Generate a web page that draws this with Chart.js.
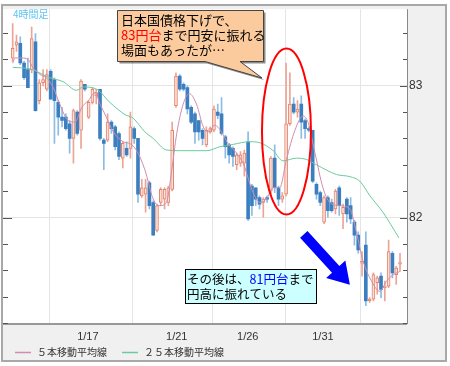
<!DOCTYPE html>
<html>
<head>
<meta charset="utf-8">
<script src="https://cdn.jsdelivr.net/npm/chart.js@4.4.1/dist/chart.umd.min.js"></script>
<style>
  html, body { margin: 0; padding: 0; background: #fff; }
</style>
</head>
<body>
<canvas id="chart1" width="450" height="366"></canvas>
<script>
// USD/JPY 4h candles, index 0 = first candle on the left
const candleOpen = [83.209, 83.308, 83.321, 83.172, 83.122, 83.122, 83.333, 82.886, 83.022, 82.973,
  83.109, 83.047, 82.873, 82.761, 82.761, 82.711, 82.600, 82.799, 82.662, 83.010,
  82.761, 82.873, 82.923, 82.973, 82.587, 82.587, 82.724, 82.687, 82.637, 82.450,
  82.525, 82.525, 82.674, 82.600, 82.164, 82.177, 82.264, 82.114, 81.903, 82.114,
  82.139, 82.114, 82.214, 82.848, 83.072, 83.010, 82.985, 82.836, 82.786, 82.736,
  82.662, 82.550, 82.649, 82.662, 82.799, 82.786, 82.612, 82.550, 82.525, 82.400,
  82.413, 82.413, 82.575, 82.239, 82.226, 82.152, 82.114, 82.152, 82.201, 82.450,
  82.226, 82.139, 82.177, 82.711, 82.861, 82.799, 82.861, 82.736, 82.674, 82.662,
  82.251, 82.189, 81.965, 82.152, 82.114, 82.065, 82.226, 82.027, 82.139, 82.090,
  81.965, 81.866, 81.654, 81.791, 81.368, 81.381, 81.505, 81.555, 81.468, 81.480,
  81.729, 81.567, 81.647];
const candleHigh = [83.470, 83.383, 83.371, 83.184, 83.209, 83.445, 83.396, 83.047, 83.122, 83.122,
  83.122, 83.060, 82.886, 82.836, 82.786, 82.736, 82.823, 82.811, 83.047, 83.010,
  82.886, 82.985, 82.973, 82.973, 82.600, 82.786, 82.736, 82.699, 82.649, 82.575,
  82.575, 82.799, 82.687, 82.600, 82.289, 82.289, 82.276, 82.127, 82.102, 82.226,
  82.226, 82.239, 82.724, 83.097, 83.085, 83.022, 82.998, 82.848, 82.799, 82.736,
  82.674, 82.687, 82.687, 82.848, 82.861, 82.910, 82.624, 82.562, 82.537, 82.488,
  82.500, 82.512, 82.649, 82.251, 82.226, 82.164, 82.152, 82.164, 82.463, 82.552,
  82.239, 82.189, 83.172, 83.097, 82.910, 82.886, 82.923, 82.749, 82.687, 82.662,
  82.264, 82.201, 82.164, 82.164, 82.139, 82.214, 82.239, 82.102, 82.152, 82.152,
  81.978, 81.891, 81.741, 81.891, 81.393, 81.580, 81.555, 81.580, 81.517, 81.828,
  81.741, 81.629, 81.729];
const candleLow = [83.184, 83.259, 83.159, 83.047, 82.985, 83.097, 82.806, 82.861, 82.998, 82.960,
  82.898, 82.562, 82.624, 82.687, 82.662, 82.488, 82.413, 82.624, 82.525, 82.960,
  82.749, 82.861, 82.861, 82.587, 82.363, 82.575, 82.637, 82.512, 82.438, 82.376,
  82.463, 82.450, 82.562, 82.114, 82.152, 82.040, 82.065, 81.866, 81.891, 82.090,
  82.065, 82.090, 82.201, 82.836, 82.960, 82.960, 82.786, 82.711, 82.562, 82.587,
  82.550, 82.537, 82.637, 82.649, 82.749, 82.624, 82.450, 82.413, 82.388, 82.363,
  82.388, 82.313, 81.978, 82.015, 82.090, 82.065, 82.002, 82.114, 82.177, 82.189,
  82.090, 82.114, 82.164, 82.699, 82.786, 82.761, 82.600, 82.600, 82.649, 82.264,
  82.139, 82.090, 81.953, 82.002, 82.040, 82.027, 82.015, 81.915, 81.965, 81.953,
  81.791, 81.729, 81.555, 81.331, 81.356, 81.368, 81.418, 81.393, 81.368, 81.468,
  81.542, 81.493, 81.592];
const candleClose = [83.284, 83.333, 83.172, 83.060, 82.985, 83.358, 82.811, 83.022, 83.047, 83.085,
  82.898, 82.886, 82.761, 82.736, 82.674, 82.600, 82.811, 82.637, 83.035, 82.973,
  82.873, 82.973, 82.948, 82.600, 82.562, 82.724, 82.674, 82.537, 82.463, 82.562,
  82.475, 82.687, 82.600, 82.177, 82.226, 82.226, 82.090, 81.866, 82.090, 82.214,
  82.214, 82.226, 82.662, 83.072, 82.973, 82.973, 82.823, 82.724, 82.649, 82.649,
  82.600, 82.662, 82.674, 82.823, 82.774, 82.637, 82.537, 82.475, 82.463, 82.475,
  82.475, 82.488, 81.990, 82.090, 82.139, 82.102, 82.139, 82.139, 82.450, 82.226,
  82.139, 82.164, 82.711, 82.861, 82.799, 82.823, 82.724, 82.674, 82.662, 82.276,
  82.177, 82.114, 82.152, 82.052, 82.052, 82.201, 82.090, 82.077, 82.027, 81.990,
  81.866, 81.754, 81.667, 81.368, 81.381, 81.567, 81.542, 81.455, 81.480, 81.741,
  81.580, 81.617, 81.659];

// moving averages (candle index, price)
const ma5Pos = [0, 0.6, 2.4, 4.1, 5.4, 7.2, 8.9, 10.7, 12.4, 14.6, 16.4, 18.2, 19.9, 21.7, 23.0, 24.7, 26.5,
  29.1, 30.9, 32.6, 34.8, 37.0, 38.8, 40.5, 41.8, 43.2, 44.9, 46.5, 48.4, 50.2, 51.5, 53.2, 55.0, 56.7,
  58.9, 60.7, 63.3, 65.1, 66.8, 68.6, 70.3, 72.1, 74.3, 76.5, 77.8, 79.6, 81.7, 83.5, 86.1, 88.8, 90.5,
  92.3, 94.1, 96.7, 98.4, 100.2, 101.9];
const ma5Val = [83.17, 83.21, 83.21, 83.197, 83.134, 83.085, 83.06, 82.985, 82.86, 82.736, 82.724, 82.836,
  82.886, 82.948, 82.86, 82.76, 82.65, 82.575, 82.56, 82.51, 82.363, 82.14, 82.09, 82.114, 82.34, 82.637,
  82.86, 82.94, 82.86, 82.687, 82.65, 82.70, 82.65, 82.56, 82.49, 82.41, 82.19, 82.114, 82.14, 82.226,
  82.226, 82.44, 82.66, 82.77, 82.72, 82.49, 82.226, 82.114, 82.09, 82.065, 81.89, 81.667, 81.54, 81.44,
  81.515, 81.567, 81.59];
const ma25Pos = [0, 4.6, 9.8, 13.3, 16.8, 18.6, 22.1, 25.6, 29.6, 31.7, 34.8, 37.0, 40.5, 44.0, 51.1, 54.6,
  58.1, 62.4, 65.1, 68.6, 71.2, 74.7, 77.4, 80.0, 85.3, 88.8, 91.4, 94.1, 97.5, 101.7];
const ma25Val = [83.139, 83.127, 83.06, 83.03, 82.965, 82.99, 82.973, 82.873, 82.78, 82.754, 82.65, 82.60,
  82.512, 82.507, 82.507, 82.537, 82.555, 82.575, 82.567, 82.507, 82.43, 82.45, 82.44, 82.40, 82.326,
  82.31, 82.276, 82.164, 82.04, 81.846];

const dateTickPos = [-0.2, 19.8, 43.2, 61.9, 81.7];
const dateTickLabels = ['', '1/17', '1/21', '1/26', '1/31'];
const priceTicks = [81.2, 81.4, 81.6, 81.8, 82, 82.2, 82.4, 82.6, 82.8, 83, 83.2, 83.4];

const jpFont = '"Noto Sans CJK JP", sans-serif';
const isMajor = v => Math.abs(v - Math.round(v)) < 1e-6;

const upWick = [], downWick = [], upBody = [], downBody = [];
candleOpen.forEach((o, i) => {
  const c = candleClose[i];
  const wick = { x: i, y: [candleLow[i], candleHigh[i]] };
  const body = { x: i, y: [o, c] };
  if (c >= o) { upWick.push(wick); upBody.push(body); }
  else { downWick.push(wick); downBody.push(body); }
});

const frame = {
  id: 'frame',
  beforeDraw(chart) {
    const { ctx, chartArea: a } = chart;
    ctx.save();
    ctx.fillStyle = '#fff';
    ctx.fillRect(0, 0, chart.width, chart.height);
    ctx.fillStyle = '#f0f0f0';
    ctx.fillRect(3, 5, 443, 356);
    ctx.strokeStyle = '#a8a8a8';
    ctx.lineWidth = 2;
    ctx.strokeRect(2, 5, 444, 356);
    ctx.fillStyle = '#fff';
    ctx.fillRect(a.left, a.top, a.right - a.left, a.bottom - a.top);
    ctx.restore();
  },
  afterDatasetsDraw(chart) {
    const { ctx, chartArea: a, scales: { x, y } } = chart;
    ctx.save();
    // axis borders
    ctx.strokeStyle = '#999';
    ctx.lineWidth = 2;
    ctx.beginPath();
    ctx.moveTo(a.left, a.bottom + 1);
    ctx.lineTo(a.right, a.bottom + 1);
    ctx.stroke();
    ctx.lineWidth = 1;
    ctx.strokeStyle = '#888';
    ctx.beginPath();
    ctx.moveTo(a.right + 0.5, a.top);
    ctx.lineTo(a.right + 0.5, a.bottom + 1);
    ctx.stroke();
    // inward tick marks on both sides
    ctx.strokeStyle = '#555';
    priceTicks.forEach(v => {
      const py = Math.round(y.getPixelForValue(v)) + 0.5;
      const big = isMajor(v);
      ctx.beginPath();
      ctx.moveTo(a.left, py);
      ctx.lineTo(a.left + (big ? 9 : 5), py);
      ctx.moveTo(a.right - (big ? 7 : 4), py);
      ctx.lineTo(a.right, py);
      ctx.stroke();
    });

    ctx.fillStyle = '#5cc4f2';
    ctx.font = '10px ' + jpFont;
    ctx.textBaseline = 'middle';
    ctx.fillText('4時間足', 13, 14);

    // red ellipse around the spike
    ctx.strokeStyle = '#ff0000';
    ctx.lineWidth = 2;
    const ex = x.getPixelForValue(72.1), ey = y.getPixelForValue(82.652);
    const rx = x.getPixelForValue(72.1 + 6.45) - ex;
    const ry = y.getPixelForValue(82.652) - y.getPixelForValue(82.652 + 0.629);
    ctx.beginPath();
    ctx.ellipse(ex, ey, rx, ry, 0, 0, Math.PI * 2);
    ctx.stroke();

    // blue arrow
    const sx = x.getPixelForValue(76.66), sy = y.getPixelForValue(81.873);
    const tx = x.getPixelForValue(88.8), ty = y.getPixelForValue(81.49);
    const len = Math.hypot(tx - sx, ty - sy);
    const ux = (tx - sx) / len, uy = (ty - sy) / len;
    const nx = -uy, ny = ux;
    const headLen = 21, headW = 26, shaftW = 10;
    const bx = tx - ux * headLen, by = ty - uy * headLen;
    ctx.fillStyle = '#0000ff';
    ctx.beginPath();
    ctx.moveTo(sx + nx * shaftW / 2, sy + ny * shaftW / 2);
    ctx.lineTo(bx + nx * shaftW / 2, by + ny * shaftW / 2);
    ctx.lineTo(bx + nx * headW / 2, by + ny * headW / 2);
    ctx.lineTo(tx, ty);
    ctx.lineTo(bx - nx * headW / 2, by - ny * headW / 2);
    ctx.lineTo(bx - nx * shaftW / 2, by - ny * shaftW / 2);
    ctx.lineTo(sx - nx * shaftW / 2, sy - ny * shaftW / 2);
    ctx.closePath();
    ctx.fill();

    // callout 1
    ctx.beginPath();
    ctx.moveTo(117.5, 10.5);
    ctx.lineTo(263.5, 10.5);
    ctx.lineTo(263.5, 61.5);
    ctx.lineTo(240, 61.5);
    ctx.lineTo(262, 78);
    ctx.lineTo(205, 61.5);
    ctx.lineTo(117.5, 61.5);
    ctx.closePath();
    ctx.save();
    ctx.shadowColor = 'rgba(0,0,0,0.45)';
    ctx.shadowOffsetX = 2;
    ctx.shadowOffsetY = 2;
    ctx.fillStyle = '#fccb9d';
    ctx.fill();
    ctx.restore();
    ctx.strokeStyle = '#444';
    ctx.lineWidth = 1;
    ctx.stroke();

    const runs = (parts, px, py) => {
      let cx = px;
      parts.forEach(([t, col]) => {
        ctx.fillStyle = col;
        ctx.fillText(t, cx, py);
        cx += ctx.measureText(t).width;
      });
    };
    ctx.font = '13px ' + jpFont;
    ctx.textBaseline = 'middle';
    runs([['日本国債格下げで、', '#000']], 121, 20);
    runs([['83円台', '#ff0000'], ['まで円安に振れる', '#000']], 121, 35);
    runs([['場面もあったが…', '#000']], 121, 50);

    // callout 2
    ctx.fillStyle = '#ccffff';
    ctx.fillRect(185.5, 269.5, 131, 34);
    ctx.strokeStyle = '#000';
    ctx.strokeRect(185.5, 269.5, 131, 34);
    ctx.font = '12.5px ' + jpFont;
    runs([['その後は、', '#000'], ['81円台', '#0000ff'], ['まで', '#000']], 187, 279);
    runs([['円高に振れている', '#000']], 187, 294);
    ctx.restore();
  },
  afterDraw(chart) {
    const { ctx } = chart;
    ctx.save();
    ctx.font = '10px ' + jpFont;
    ctx.textBaseline = 'middle';
    let lx = 15;
    chart.data.datasets.filter(d => d.type === 'line').forEach(d => {
      ctx.strokeStyle = d.borderColor;
      ctx.lineWidth = 1.5;
      ctx.beginPath();
      ctx.moveTo(lx, 352.5);
      ctx.lineTo(lx + 16, 352.5);
      ctx.stroke();
      ctx.fillStyle = '#333';
      ctx.fillText(d.label, lx + 22, 352);
      lx += 22 + ctx.measureText(d.label).width + 15;
    });
    ctx.restore();
  }
};

Chart.defaults.font.family = '"Liberation Sans", sans-serif';

var candleChart = new Chart(document.getElementById('chart1').getContext('2d'), {
  type: 'bar',
  data: {
    datasets: [
      {
        type: 'line',
        label: '５本移動平均線',
        data: ma5Pos.map((p, i) => ({ x: p, y: ma5Val[i] })),
        borderColor: '#cf8db0',
        borderWidth: 1,
        pointRadius: 0,
        cubicInterpolationMode: 'monotone',
        order: 1,
      },
      {
        type: 'line',
        label: '２５本移動平均線',
        data: ma25Pos.map((p, i) => ({ x: p, y: ma25Val[i] })),
        borderColor: '#6ccb9c',
        borderWidth: 1,
        pointRadius: 0,
        cubicInterpolationMode: 'monotone',
        order: 2,
      },
      {
        label: 'upWick',
        data: upWick,
        backgroundColor: '#eea493',
        barThickness: 1,
        grouped: false,
        order: 5,
      },
      {
        label: 'downWick',
        data: downWick,
        backgroundColor: '#8cbbe3',
        barThickness: 1,
        grouped: false,
        order: 5,
      },
      {
        label: 'upBody',
        data: upBody,
        backgroundColor: '#fbe0d7',
        borderColor: '#e3836a',
        borderWidth: 1,
        borderSkipped: false,
        barThickness: 3,
        minBarLength: 1,
        grouped: false,
        order: 4,
      },
      {
        label: 'downBody',
        data: downBody,
        backgroundColor: '#3b7fc1',
        barThickness: 3,
        minBarLength: 1,
        grouped: false,
        order: 4,
      },
    ],
  },
  options: {
    responsive: false,
    animation: false,
    events: [],
    layout: { padding: { left: 3, top: 5, right: 0, bottom: 0 } },
    plugins: {
      legend: { display: false },
      tooltip: { enabled: false },
    },
    scales: {
      x: {
        type: 'linear',
        min: -2.55,
        max: 103.84,
        offset: false,
        afterBuildTicks: s => { s.ticks = dateTickPos.map(v => ({ value: v })); },
        afterFit: s => { s.height = 43; },
        ticks: {
          autoSkip: false,
          maxRotation: 0,
          padding: 7,
          color: '#333',
          font: { size: 11 },
          callback: (v, i) => dateTickLabels[i],
        },
        grid: { color: '#e4e4e4', drawTicks: false },
        border: { display: false },
      },
      y: {
        position: 'right',
        min: 81.2,
        max: 83.58,
        afterBuildTicks: s => { s.ticks = priceTicks.map(v => ({ value: v })); },
        afterFit: s => { s.width = 43; },
        ticks: {
          padding: 2,
          color: '#333',
          font: { size: 12 },
          callback: v => (isMajor(v) ? String(Math.round(v)) : ''),
        },
        grid: {
          color: ctx => (isMajor(ctx.tick.value) ? '#e4e4e4' : 'rgba(0,0,0,0)'),
          drawTicks: false,
        },
        border: { display: false },
      },
    },
  },
  plugins: [frame],
});
</script>
</body>
</html>
